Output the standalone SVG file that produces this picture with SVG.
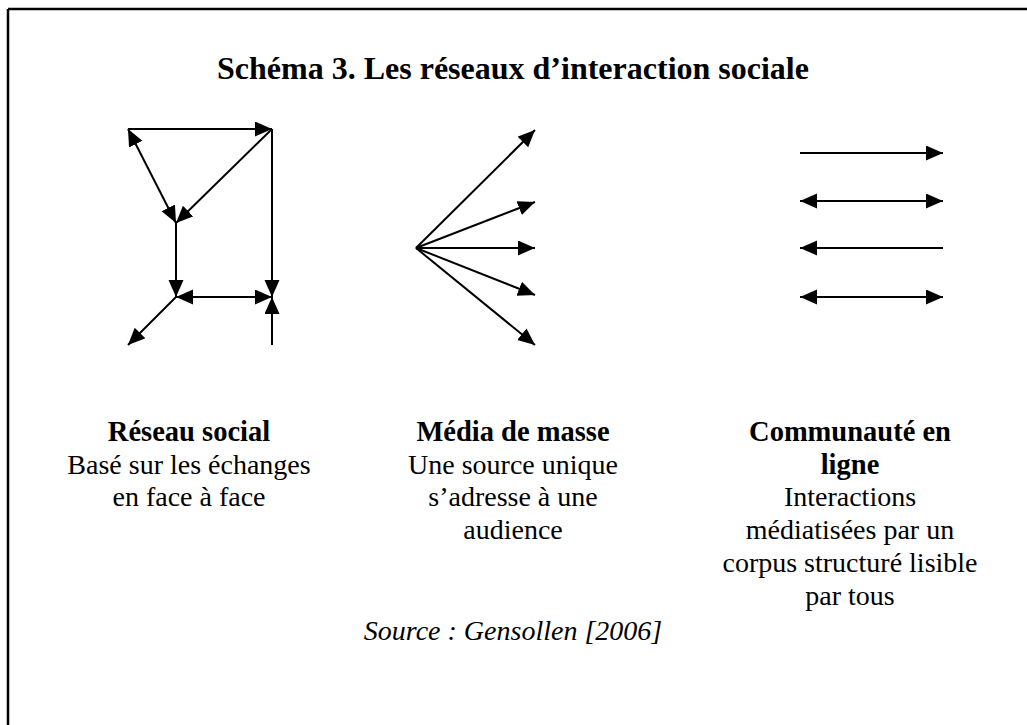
<svg xmlns="http://www.w3.org/2000/svg" width="1027" height="725" viewBox="0 0 1027 725">
<style>
.t{font-family:"Liberation Serif","Times New Roman",serif;fill:#000;text-anchor:middle}
.title{font-size:32px;font-weight:bold}
.h{font-size:28.5px;font-weight:bold}
.b{font-size:28px}
.src{font-size:28px;font-style:italic}
.ln{stroke:#000;stroke-width:2;fill:none}
.a{marker-end:url(#ah)}
.d{marker-start:url(#ah);marker-end:url(#ah)}
.s{marker-start:url(#ah)}
</style>
<defs>
<marker id="ah" markerUnits="userSpaceOnUse" markerWidth="18" markerHeight="16" refX="17" refY="7.5" orient="auto-start-reverse" viewBox="0 0 18 16">
<path d="M0,0 L17,7.5 L0,15 Z" fill="#000"/>
</marker>
</defs>
<rect width="1027" height="725" fill="#fff"/>
<g id="frame">
<line x1="8" y1="9" x2="1027" y2="9" stroke="#000" stroke-width="2.5"/>
<line x1="8" y1="9" x2="8" y2="725" stroke="#000" stroke-width="2.5"/>
</g>
<g id="title"><text class="t title" x="513" y="79">Schéma 3. Les réseaux d’interaction sociale</text></g>
<g id="connectors">
<g id="reseau-social-arrows">
<line class="ln a" x1="128" y1="129" x2="272" y2="129"/>
<line class="ln d" x1="128" y1="129" x2="176" y2="223"/>
<line class="ln a" x1="272" y1="129" x2="176" y2="223"/>
<line class="ln a" x1="176" y1="223" x2="176" y2="297"/>
<line class="ln a" x1="272" y1="129" x2="272" y2="297"/>
<line class="ln d" x1="176" y1="297" x2="272" y2="297"/>
<line class="ln a" x1="176" y1="297" x2="128" y2="345"/>
<line class="ln a" x1="272" y1="345" x2="272" y2="297"/>
</g>
<g id="media-arrows">
<line class="ln a" x1="416" y1="248" x2="535" y2="130"/>
<line class="ln a" x1="416" y1="248" x2="535" y2="202"/>
<line class="ln a" x1="416" y1="248" x2="535" y2="248"/>
<line class="ln a" x1="416" y1="248" x2="535" y2="295"/>
<line class="ln a" x1="416" y1="248" x2="535" y2="345"/>
</g>
<g id="communaute-arrows">
<line class="ln a" x1="800" y1="153" x2="943" y2="153"/>
<line class="ln d" x1="800" y1="201" x2="943" y2="201"/>
<line class="ln s" x1="800" y1="248" x2="943" y2="248"/>
<line class="ln d" x1="800" y1="297" x2="943" y2="297"/>
</g>
</g>
<g id="node-reseau">
<text class="t h" x="189" y="441">Réseau social</text>
<text class="t b" x="189" y="474">Basé sur les échanges</text>
<text class="t b" x="189" y="506">en face à face</text>
</g>
<g id="node-media">
<text class="t h" x="513" y="441">Média de masse</text>
<text class="t b" x="513" y="474">Une source unique</text>
<text class="t b" x="513" y="506">s’adresse à une</text>
<text class="t b" x="513" y="539">audience</text>
</g>
<g id="node-communaute">
<text class="t h" x="850" y="441">Communauté en</text>
<text class="t h" x="850" y="474">ligne</text>
<text class="t b" x="850" y="506">Interactions</text>
<text class="t b" x="850" y="539">médiatisées par un</text>
<text class="t b" x="850" y="572">corpus structuré lisible</text>
<text class="t b" x="850" y="605">par tous</text>
</g>
<g id="source"><text class="t src" x="513" y="640">Source : Gensollen [2006]</text></g>
</svg>
